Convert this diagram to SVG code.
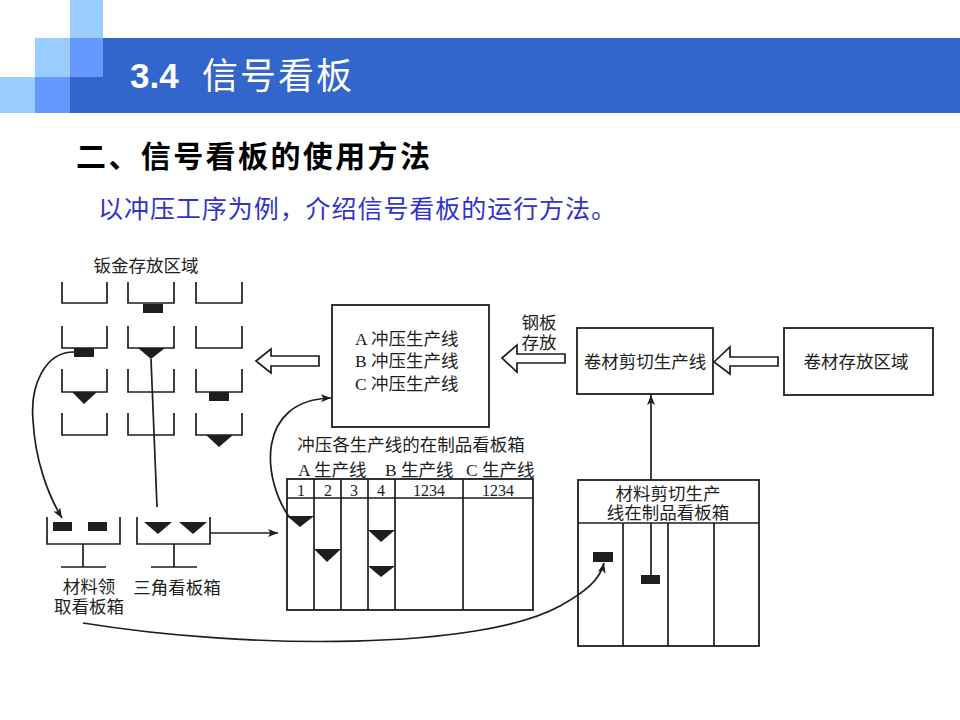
<svg xmlns="http://www.w3.org/2000/svg" width="960" height="720" viewBox="0 0 960 720">
<defs>
<style>
.ln{stroke:#1e1e1e;stroke-width:1.7;fill:none}
.fl{fill:#1e1e1e;stroke:none}
.ha{fill:#fff;stroke:#1e1e1e;stroke-width:1.7}
.bx{fill:#fff;stroke:#1e1e1e;stroke-width:1.8}
.t{font-family:"Liberation Serif","Noto Sans CJK SC",serif;font-size:17.5px;fill:#1e1e1e}
.m{text-anchor:middle}
.d{font-family:"Liberation Serif",serif;font-size:16px;fill:#1e1e1e;text-anchor:middle}
</style>
<marker id="ah" viewBox="0 0 10 8" markerWidth="10" markerHeight="8" refX="10" refY="4" orient="auto" markerUnits="userSpaceOnUse">
<path d="M0,0 L10,4 L0,8 L2.5,4 z" fill="#1e1e1e"/>
</marker>
</defs>
<rect width="960" height="720" fill="#fff"/>

<g id="header">
<rect x="70" y="38" width="890" height="75" fill="#3366CC"/>
<rect x="70" y="0" width="33" height="38" fill="#99CCFF"/>
<rect x="35" y="38" width="35" height="39" fill="#99CCFF"/>
<rect x="70" y="38" width="33" height="39" fill="#6699FF"/>
<rect x="0" y="77" width="35" height="36" fill="#99CCFF"/>
<rect x="35" y="77" width="35" height="36" fill="#6699FF"/>
<text x="130" y="88" font-family="Liberation Sans,Arial,sans-serif" font-weight="bold" font-size="35" fill="#fff">3.4</text>
<text x="202" y="89" font-family="Noto Sans CJK SC,sans-serif" font-size="36" fill="#fff" textLength="150" lengthAdjust="spacing">信号看板</text>
</g>

<g id="heading">
<text x="76" y="167" font-family="Noto Sans CJK SC,sans-serif" font-weight="bold" font-size="30" fill="#000" textLength="354" lengthAdjust="spacing">二、信号看板的使用方法</text>
<text x="98" y="218" font-family="Noto Sans CJK SC,sans-serif" font-size="25" fill="#3333CC" textLength="518" lengthAdjust="spacing">以冲压工序为例，介绍信号看板的运行方法。</text>
</g>

<g id="sheet-storage">
<text class="t m" x="146" y="272">钣金存放区域</text>
<path class="ln" d="M62,282V303H107V282 M128,282V303H174V282 M196,282V303H242V282"/>
<path class="ln" d="M62,326V348H107V326 M128,326V348H174V326 M196,326V348H242V326"/>
<path class="ln" d="M62,369V392H107V369 M128,369V392H174V369 M196,369V392H242V369"/>
<path class="ln" d="M62,413V435H107V413 M128,413V435H174V413 M196,413V435H242V413"/>
<rect class="fl" x="143" y="304" width="20" height="9"/>
<rect class="fl" x="74" y="348" width="20" height="9"/>
<polygon class="fl" points="138,348 165,348 151,359"/>
<polygon class="fl" points="72,392 97,392 84,404"/>
<rect class="fl" x="209" y="392" width="20" height="9"/>
<polygon class="fl" points="206,435 233,435 219,447"/>
</g>

<g id="material-bin">
<path class="ln" d="M47,517V544H120V517 M83,544V567 M61,567H106"/>
<rect class="fl" x="53" y="522" width="19" height="9"/>
<rect class="fl" x="88" y="522" width="19" height="9"/>
<text class="t m" x="89" y="593">材料领</text>
<text class="t m" x="89" y="613">取看板箱</text>
</g>

<g id="triangle-bin">
<path class="ln" d="M137,517V544H210V517 M174,544V567 M151,567H197"/>
<polygon class="fl" points="144,522 172,522 158,534"/>
<polygon class="fl" points="179,522 207,522 193,534"/>
<text class="t m" x="177" y="594">三角看板箱</text>
</g>

<g id="stamping-lines">
<rect class="bx" x="332" y="305" width="157" height="122"/>
<text class="t" x="355" y="345">A 冲压生产线</text>
<text class="t" x="355" y="367">B 冲压生产线</text>
<text class="t" x="355" y="390">C 冲压生产线</text>
</g>

<g id="stamping-wip">
<text class="t m" x="411" y="451">冲压各生产线的在制品看板箱</text>
<text class="t" x="298" y="476">A 生产线</text>
<text class="t" x="385" y="476">B 生产线</text>
<text class="t" x="466" y="476">C 生产线</text>
<rect class="bx" x="287" y="479" width="246" height="131"/>
<path class="ln" d="M287,498H533 M314,479V610 M341,479V610 M368,479V610 M395,479V610 M463,479V610"/>
<text class="d" x="301" y="496">1</text>
<text class="d" x="328" y="496">2</text>
<text class="d" x="354" y="496">3</text>
<text class="d" x="381" y="496">4</text>
<text class="d" x="429" y="496">1234</text>
<text class="d" x="498" y="496">1234</text>
<polygon class="fl" points="287,516 314,516 300,527"/>
<polygon class="fl" points="314,549 341,549 327,562"/>
<polygon class="fl" points="368,530 395,530 381,542"/>
<polygon class="fl" points="368,566 395,566 381,577"/>
</g>

<g id="coil-cutting">
<rect class="bx" x="577" y="328" width="136" height="66"/>
<text class="t m" x="645" y="368">卷材剪切生产线</text>
</g>

<g id="coil-storage">
<rect class="bx" x="784" y="328" width="149" height="67"/>
<text class="t m" x="856" y="368">卷材存放区域</text>
</g>

<g id="cutting-wip">
<rect class="bx" x="578" y="480" width="181" height="166"/>
<path class="ln" d="M578,523H759 M623,523V646 M668,523V646 M714,523V646"/>
<text class="t m" x="668" y="500">材料剪切生产</text>
<text class="t m" x="668" y="519">线在制品看板箱</text>
<rect class="fl" x="593" y="552" width="20" height="10"/>
<rect class="fl" x="641" y="575" width="19" height="9"/>
</g>

<g id="connectors">
<polygon class="ha" points="256,361 271,349 271,356 319,356 319,366 271,366 271,373"/>
<polygon class="ha" points="502,358 517,345 517,354 565,354 565,363 517,363 517,372"/>
<polygon class="ha" points="714,362 730,347 730,357 778,357 778,366 730,366 730,374"/>
<text class="t m" x="539" y="329">钢板</text>
<text class="t m" x="539" y="349">存放</text>
<path class="ln" d="M151,359L157,507"/>
<path class="ln" d="M74,352C45,352 30,385 33,420C35,460 48,495 62,518" marker-end="url(#ah)"/>
<path class="ln" d="M210,533H278" marker-end="url(#ah)"/>
<path class="ln" d="M290,518C262,480 255,400 331,398" marker-end="url(#ah)"/>
<path class="ln" d="M651,480V395" marker-end="url(#ah)"/>
<path class="ln" d="M651,523V575"/>
<path class="ln" d="M83,623C250,650 480,650 560,606C585,592 600,580 604,563" marker-end="url(#ah)"/>
</g>
</svg>
